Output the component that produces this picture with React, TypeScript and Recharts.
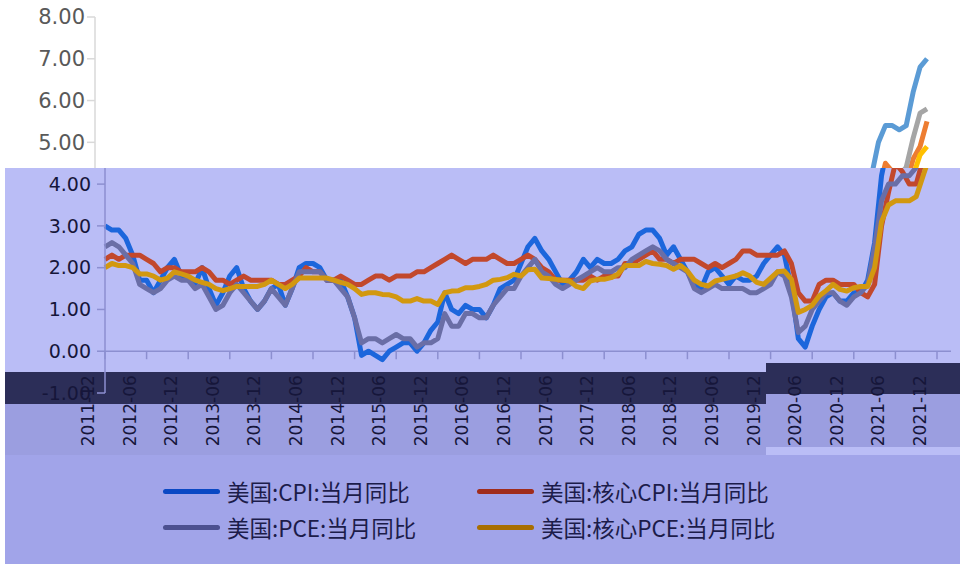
import React from 'react';
import { LineChart, Line, XAxis, YAxis, ReferenceLine, Legend } from 'recharts';

// monthly, 2011-12 .. 2021-12
const months: string[] = ['2011-12'];
for (let y = 2012; y <= 2021; y++) {
  for (let m = 1; m <= 12; m++) months.push(`${y}-${String(m).padStart(2, '0')}`);
}

const cpi = [
  3.0,
  2.9, 2.9, 2.7, 2.3, 1.7, 1.7, 1.4, 1.7, 2.0, 2.2, 1.8, 1.7,
  1.6, 2.0, 1.5, 1.1, 1.4, 1.8, 2.0, 1.5, 1.2, 1.0, 1.2, 1.5,
  1.6, 1.1, 1.5, 2.0, 2.1, 2.1, 2.0, 1.7, 1.7, 1.7, 1.3, 0.8,
  -0.1, 0.0, -0.1, -0.2, 0.0, 0.1, 0.2, 0.2, 0.0, 0.2, 0.5, 0.7,
  1.4, 1.0, 0.9, 1.1, 1.0, 1.0, 0.8, 1.1, 1.5, 1.6, 1.7, 2.1,
  2.5, 2.7, 2.4, 2.2, 1.9, 1.6, 1.7, 1.9, 2.2, 2.0, 2.2, 2.1,
  2.1, 2.2, 2.4, 2.5, 2.8, 2.9, 2.9, 2.7, 2.3, 2.5, 2.2, 1.9,
  1.6, 1.5, 1.9, 2.0, 1.8, 1.6, 1.8, 1.7, 1.7, 1.8, 2.1, 2.3,
  2.5, 2.3, 1.5, 0.3, 0.1, 0.6, 1.0, 1.3, 1.4, 1.2, 1.2, 1.4,
  1.4, 1.7, 2.6, 4.2, 5.0, 5.4, 5.4, 5.3, 5.4, 6.2, 6.8, 7.0,
];

const coreCpi = [
  2.2,
  2.3, 2.2, 2.3, 2.3, 2.3, 2.2, 2.1, 1.9, 2.0, 2.0, 1.9, 1.9,
  1.9, 2.0, 1.9, 1.7, 1.7, 1.6, 1.7, 1.8, 1.7, 1.7, 1.7, 1.7,
  1.6, 1.6, 1.7, 1.8, 2.0, 1.9, 1.9, 1.7, 1.7, 1.8, 1.7, 1.6,
  1.6, 1.7, 1.8, 1.8, 1.7, 1.8, 1.8, 1.8, 1.9, 1.9, 2.0, 2.1,
  2.2, 2.3, 2.2, 2.1, 2.2, 2.2, 2.2, 2.3, 2.2, 2.1, 2.1, 2.2,
  2.3, 2.2, 2.0, 1.9, 1.7, 1.7, 1.7, 1.7, 1.7, 1.8, 1.7, 1.8,
  1.8, 1.8, 2.1, 2.1, 2.2, 2.3, 2.4, 2.2, 2.2, 2.1, 2.2, 2.2,
  2.2, 2.1, 2.0, 2.1, 2.0, 2.1, 2.2, 2.4, 2.4, 2.3, 2.3, 2.3,
  2.3, 2.4, 2.1, 1.4, 1.2, 1.2, 1.6, 1.7, 1.7, 1.6, 1.6, 1.6,
  1.4, 1.3, 1.6, 3.0, 3.8, 4.5, 4.3, 4.0, 4.0, 4.6, 4.9, 5.5,
];

const pce = [
  2.5,
  2.6, 2.5, 2.3, 2.1, 1.6, 1.5, 1.4, 1.5, 1.7, 1.8, 1.7, 1.7,
  1.5, 1.6, 1.3, 1.0, 1.1, 1.4, 1.6, 1.4, 1.2, 1.0, 1.2, 1.5,
  1.3, 1.1, 1.5, 1.9, 1.9, 1.9, 1.9, 1.7, 1.7, 1.5, 1.3, 0.8,
  0.2, 0.3, 0.3, 0.2, 0.3, 0.4, 0.3, 0.3, 0.1, 0.2, 0.2, 0.3,
  0.9, 0.6, 0.6, 0.9, 0.9, 0.8, 0.8, 1.1, 1.3, 1.5, 1.5, 1.8,
  2.0, 2.2, 1.9, 1.8, 1.6, 1.5, 1.6, 1.7, 1.8, 1.9, 2.0, 1.9,
  1.9, 2.0, 2.0, 2.2, 2.3, 2.4, 2.5, 2.4, 2.2, 2.1, 2.0, 1.9,
  1.5, 1.4, 1.5, 1.6, 1.5, 1.5, 1.5, 1.5, 1.4, 1.4, 1.5, 1.6,
  1.9, 1.8, 1.3, 0.45, 0.6, 1.0, 1.2, 1.4, 1.4, 1.2, 1.1, 1.3,
  1.4, 1.6, 2.5, 3.6, 4.0, 4.0, 4.2, 4.2, 4.4, 5.1, 5.7, 5.8,
];

const corePce = [
  2.0,
  2.1, 2.05, 2.05, 2.0, 1.85, 1.85, 1.8, 1.7, 1.75, 1.9, 1.85, 1.8,
  1.7, 1.65, 1.6, 1.5, 1.45, 1.5, 1.55, 1.55, 1.55, 1.55, 1.6, 1.7,
  1.6, 1.5, 1.6, 1.75, 1.75, 1.75, 1.75, 1.75, 1.7, 1.65, 1.6, 1.5,
  1.36, 1.4, 1.4, 1.36, 1.35, 1.3, 1.2, 1.2, 1.26, 1.2, 1.2, 1.12,
  1.4, 1.44, 1.45, 1.52, 1.52, 1.55, 1.6, 1.7, 1.72, 1.76, 1.84, 1.8,
  1.95, 1.96, 1.75, 1.74, 1.72, 1.7, 1.68, 1.55, 1.5, 1.68, 1.72, 1.72,
  1.76, 1.85, 2.05, 2.05, 2.05, 2.15, 2.1, 2.08, 2.05, 1.96, 2.05, 1.92,
  1.7, 1.6, 1.56, 1.68, 1.72, 1.76, 1.8, 1.88, 1.8, 1.65, 1.6, 1.75,
  1.9, 1.92, 1.72, 0.93, 1.0, 1.1, 1.32, 1.45, 1.6, 1.48, 1.44, 1.52,
  1.55, 1.55, 2.0, 3.1, 3.5, 3.6, 3.6, 3.6, 3.7, 4.2, 4.7, 4.9,
];

const seriesKeys = ['cpi', 'coreCpi', 'pce', 'corePce'];
const seriesNames = ['美国:CPI:当月同比', '美国:核心CPI:当月同比', '美国:PCE:当月同比', '美国:核心PCE:当月同比'];
const yTicks = [-1, 0, 1, 2, 3, 4, 5, 6, 7, 8];

const data = months.map((month, i) => ({
  month,
  cpi: cpi[i],
  coreCpi: coreCpi[i],
  pce: pce[i],
  corePce: corePce[i],
}));

const W = 960;
const H = 564;
const PLOT_TOP = 17;
const PLOT_BOTTOM = 393;
const X_AXIS_H = 60;
const LEGEND_H = 90;
const Y_MIN = -1;
const Y_MAX = 8;
const UNIT = (PLOT_BOTTOM - PLOT_TOP) / (Y_MAX - Y_MIN);

interface Theme {
  axisX: number;
  lines: string[];
  legend: string[] | null;
  axis: string;
  text: string;
  yFont: number;
  yMargin: number;
  yLabels: [number, number];
  xLabels: boolean;
}

// the picture is two copies of one Excel chart: a plain one on top and a tinted one, shifted right
const plain: Theme = {
  axisX: 95,
  lines: ['#5b9bd5', '#ed7d31', '#a5a5a5', '#ffc000'],
  legend: null,
  axis: '#d9d9d9',
  text: '#595959',
  yFont: 21,
  yMargin: 2,
  yLabels: [5, Y_MAX],
  xLabels: false,
};

const tinted: Theme = {
  axisX: 105,
  lines: ['#1c66dc', '#c2482c', '#6a6ea6', '#d29810'],
  legend: ['#0a48c4', '#a02c1c', '#4c5090', '#a86e00'],
  axis: '#8c8fd0',
  text: '#16163a',
  yFont: 19,
  yMargin: 6,
  yLabels: [Y_MIN, 4],
  xLabels: true,
};

const XTick = (theme: Theme) => (props: any) => {
  const { x, y, payload } = props;
  const y0 = y - (0 - Y_MIN) * UNIT;
  const tx = x - 17;
  const ty = y0 + 24;
  return (
    <g>
      <line x1={x} x2={x} y1={y0} y2={y0 + 8} stroke={theme.axis} strokeWidth={1.5} />
      {theme.xLabels && (
        <text
          x={tx}
          y={ty}
          transform={`rotate(-90 ${tx} ${ty})`}
          textAnchor="end"
          dominantBaseline="central"
          fontSize={17}
          fontFamily="DejaVu Sans"
          fill={theme.text}
        >
          {payload.value}
        </text>
      )}
    </g>
  );
};

const LegendBox = (theme: Theme) => (props: any) => {
  const items = theme.legend ? props.payload || [] : [];
  return (
    <div style={{ position: 'relative', width: W - theme.axisX, height: LEGEND_H }}>
      {items.map((item: any) => {
        const i = seriesNames.indexOf(item.value);
        return (
          <div
            key={item.value}
            style={{
              position: 'absolute',
              left: i % 2 === 0 ? 163 : 477,
              top: (i < 2 ? 38 : 74) - 16,
              height: 32,
              display: 'flex',
              alignItems: 'center',
              whiteSpace: 'nowrap',
            }}
          >
            <div style={{ width: 57, height: 5, borderRadius: 3, background: theme.legend![i], marginRight: 7 }} />
            <span style={{ fontFamily: '"Noto Sans CJK SC"', fontSize: 22.5, color: '#1c1c4a' }}>{item.value}</span>
          </div>
        );
      })}
    </div>
  );
};

const InflationChart = ({ theme }: { theme: Theme }) => (
  <LineChart
    width={W}
    height={H}
    data={data}
    margin={{ top: PLOT_TOP, right: 9 + (105 - theme.axisX), left: 0, bottom: H - PLOT_BOTTOM - X_AXIS_H - LEGEND_H }}
  >
    <XAxis
      dataKey="month"
      interval={5}
      height={X_AXIS_H}
      axisLine={false}
      tickLine={false}
      tickSize={0}
      tickMargin={0}
      padding={{ left: 0, right: 14 }}
      tick={XTick(theme)}
    />
    <YAxis
      width={theme.axisX}
      domain={[Y_MIN, Y_MAX]}
      ticks={yTicks}
      interval={0}
      tickFormatter={(v: number) => (v >= theme.yLabels[0] && v <= theme.yLabels[1] ? v.toFixed(2) : '')}
      axisLine={{ stroke: theme.axis, strokeWidth: 1.5 }}
      tickLine={{ stroke: theme.axis, strokeWidth: 1.5 }}
      tickSize={8}
      tickMargin={theme.yMargin}
      tick={{ fill: theme.text, fontSize: theme.yFont, fontFamily: 'DejaVu Sans' }}
    />
    <ReferenceLine y={0} stroke={theme.axis} strokeWidth={1.5} />
    {seriesKeys.map((k, i) => (
      <Line
        key={k}
        dataKey={k}
        name={seriesNames[i]}
        stroke={theme.lines[i]}
        strokeWidth={5}
        strokeLinejoin="round"
        dot={false}
        activeDot={false}
        isAnimationActive={false}
      />
    ))}
    <Legend content={LegendBox(theme)} />
  </LineChart>
);

export default function App() {
  return (
    <div style={{ position: 'absolute', left: 0, top: 0, width: W, height: H, background: '#ffffff', overflow: 'hidden' }}>
      <div style={{ position: 'absolute', left: 0, top: 0 }}>
        <InflationChart theme={plain} />
      </div>
      <div style={{ position: 'absolute', left: 0, top: 0, width: W, height: H, clipPath: 'inset(168px 0px 0px 5px)' }}>
        <div style={{ position: 'absolute', left: 0, top: 0, width: W, height: H, background: '#babdf6' }} />
        <div style={{ position: 'absolute', left: 0, top: 372, width: 766, height: 32, background: '#2c2e58' }} />
        <div style={{ position: 'absolute', left: 766, top: 363, width: W - 766, height: 31, background: '#2c2e58' }} />
        <div style={{ position: 'absolute', left: 0, top: 404, width: 766, height: 51, background: '#9b9ee0' }} />
        <div style={{ position: 'absolute', left: 766, top: 394, width: W - 766, height: 53, background: '#9b9ee0' }} />
        <div style={{ position: 'absolute', left: 0, top: 455, width: W, height: H - 455, background: '#a1a4e9' }} />
        <div style={{ position: 'absolute', left: 0, top: 0 }}>
          <InflationChart theme={tinted} />
        </div>
      </div>
    </div>
  );
}
